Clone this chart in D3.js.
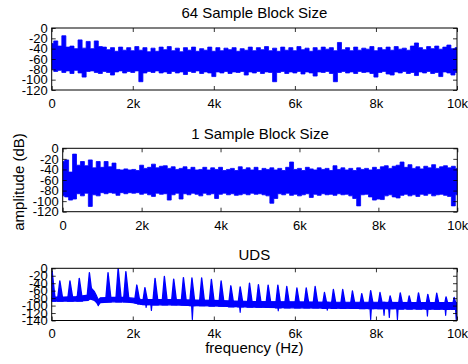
<!DOCTYPE html>
<html><head><meta charset="utf-8">
<script src="https://cdn.jsdelivr.net/npm/d3@7"></script>
<style>
html,body{margin:0;padding:0;background:#fff;}
svg{display:block;font-family:"Liberation Sans",Arial,Helvetica,sans-serif;}
</style></head><body>
<svg id="chart" width="468" height="364"></svg>
<script>
// ---------- data (frequency in kHz, amplitude in dB) ----------
const titles = ["64 Sample Block Size", "1 Sample Block Size", "UDS"];
const xTicks = [0, 2, 4, 6, 8, 10];
const yTicks12 = [0, -20, -40, -60, -80, -100, -120];
const yTicks3 = [0, -20, -40, -60, -80, -100, -120, -140];
const gridFreq = d3.range(101).map(i => i / 10); // 0 .. 10 kHz, 100 Hz bins

const hi64 = [-30,-25,-35,-15,-37,-35,-40,-23,-39,-26,-40,-25,-36,-37,-42,-38,-45,-37,-43,-38,
  -44,-36,-43,-38,-46,-39,-45,-37,-42,-36,-44,-39,-46,-38,-43,-37,-45,-40,-43,-37,
  -45,-38,-44,-39,-42,-38,-45,-40,-43,-37,-44,-38,-42,-36,-44,-39,-45,-37,-43,-38,
  -44,-36,-42,-39,-45,-38,-43,-37,-41,-38,-44,-28,-42,-38,-44,-37,-43,-39,-41,-36,
  -44,-38,-42,-37,-43,-36,-41,-39,-43,-35,-29,-38,-42,-36,-40,-35,-41,-37,-33,-40,-38];
const lo64 = [-80,-84,-82,-86,-83,-88,-82,-87,-95,-84,-83,-86,-88,-84,-86,-91,-85,-83,-87,-84,
  -86,-83,-104,-87,-84,-86,-83,-87,-85,-88,-84,-87,-85,-90,-84,-86,-83,-88,-85,-87,
  -94,-85,-87,-84,-88,-85,-86,-84,-91,-85,-87,-84,-88,-85,-86,-104,-86,-84,-88,-85,
  -87,-84,-89,-85,-87,-93,-85,-86,-84,-88,-104,-86,-84,-87,-85,-88,-84,-86,-85,-88,
  -95,-86,-84,-89,-91,-85,-87,-84,-88,-86,-92,-85,-87,-84,-88,-86,-94,-85,-87,-91,-86];

const hi1 = [-25,-22,-45,-11,-32,-25,-33,-22,-37,-25,-36,-25,-35,-28,-40,-41,-39,-41,-40,-42,
  -32,-38,-36,-30,-37,-34,-33,-38,-35,-40,-38,-35,-40,-36,-41,-40,-36,-41,-37,-40,
  -36,-42,-40,-38,-42,-35,-40,-37,-41,-36,-42,-38,-40,-37,-41,-38,-42,-36,-26,-40,
  -38,-42,-36,-39,-41,-37,-40,-38,-42,-33,-40,-37,-41,-38,-42,-37,-40,-38,-41,-36,
  -40,-35,-33,-38,-34,-32,-26,-36,-31,-38,-35,-39,-34,-37,-31,-38,-35,-33,-37,-34,-38];
const lo1 = [-90,-92,-98,-96,-86,-90,-85,-110,-88,-90,-84,-86,-84,-85,-89,-84,-86,-84,-85,-84,
  -87,-85,-88,-91,-85,-87,-86,-98,-88,-85,-96,-86,-88,-85,-87,-90,-85,-88,-86,-95,
  -87,-85,-88,-86,-89,-88,-86,-88,-85,-87,-86,-88,-90,-104,-95,-86,-88,-85,-89,-87,
  -90,-88,-86,-93,-87,-89,-86,-88,-87,-89,-86,-88,-87,-90,-95,-109,-88,-87,-92,-98,
  -96,-97,-90,-88,-92,-94,-89,-87,-90,-88,-91,-87,-89,-86,-90,-88,-87,-89,-91,-109,-88];

// UDS: noise floor band, harmonic peaks and deep notches
const udsBaseF  = [0, 0.3, 0.6, 0.9, 0.95, 1.0, 1.05, 1.1, 1.15, 1.2, 1.5, 1.8, 2.0, 2.2, 2.5, 3.0, 3.5, 4.0, 4.5, 5.0, 6.0, 7.0, 8.0, 9.0, 10.0];
const udsBaseHi = [-77,-77,-76,-72,-50,-56,-62,-72,-85,-79,-78,-78,-80,-83,-84,-84,-85,-86,-88,-89,-90,-91,-91,-92,-92];
const udsBaseLo = [-88,-88,-88,-86,-82,-84,-86,-91,-99,-92,-90,-90,-92,-97,-98,-98,-100,-101,-103,-104,-106,-107,-108,-109,-110];
const udsPeakF  = [0.01,0.2,0.45,0.68,0.93,1.39,1.64,1.83,2.1,2.3,2.55,2.78,3.01,3.25,3.46,3.7,3.94,4.18,4.42,4.65,4.88,5.1,5.34,5.58,5.8,6.05,6.28,6.5,6.73,6.95,7.18,7.42,7.65,7.87,8.1,8.35,8.6,8.82,9.05,9.28,9.5,9.73,9.93];
const udsPeakDb = [-8,-34,-34,-27,-12,-12,0,-9,-45,-52,-27,-22,-29,-25,-26,-26,-30,-34,-47,-50,-40,-44,-45,-45,-49,-53,-53,-49,-65,-57,-57,-61,-68,-60,-65,-74,-66,-74,-66,-70,-67,-77,-78];
const udsDipF   = [1.15,2.13,2.33,2.46,3.47,4.65,5.59,6.8,7.87,8.2,8.33,8.53,9.27,9.72,9.98];
const udsDipDb  = [-100,-97,-105,-113,-137,-118,-114,-112,-137,-126,-132,-137,-128,-126,-137];

// ---------- layout ----------
const svg = d3.select("#chart");
const BLUE = "#0000ff";
const panels = [
  {title: titles[0], x0: 51.7, x1: 457, y0: 28, y1: 90, dom: [-120, 0], ticks: yTicks12, ty: 18.3, hi: hi64, lo: lo64},
  {title: titles[1], x0: 62.7, x1: 457.3, y0: 148.3, y1: 211.7, dom: [-120, 0], ticks: yTicks12, ty: 138.5, hi: hi1, lo: lo1},
  {title: titles[2], x0: 51.7, x1: 457, y0: 268.3, y1: 320.5, dom: [-140, 0], ticks: yTicks3, ty: 260, uds: true}
];

panels.forEach((p, pi) => {
  const x = d3.scaleLinear().domain([0, 10]).range([p.x0, p.x1]);
  const y = d3.scaleLinear().domain(p.dom).range([p.y1, p.y0]);
  const g = svg.append("g");
  const clipId = "clip" + pi;
  svg.append("clipPath").attr("id", clipId).append("rect")
    .attr("x", p.x0).attr("y", p.y0).attr("width", p.x1 - p.x0).attr("height", p.y1 - p.y0);
  const dg = g.append("g").attr("clip-path", `url(#${clipId})`);

  if (!p.uds) {
    const area = d3.area().curve(d3.curveStep)
      .x((d, i) => x(gridFreq[i])).y0((d, i) => y(p.lo[i])).y1((d, i) => y(p.hi[i]));
    dg.append("path").datum(p.hi).attr("d", area)
      .attr("fill", BLUE).attr("stroke", BLUE).attr("stroke-width", 0.8);
  } else {
    const area = d3.area()
      .x((d, i) => x(udsBaseF[i])).y0((d, i) => y(udsBaseLo[i])).y1((d, i) => y(udsBaseHi[i]));
    dg.append("path").datum(udsBaseF).attr("d", area)
      .attr("fill", BLUE).attr("stroke", BLUE).attr("stroke-width", 1.2);
    const near = f => d3.leastIndex(udsBaseF, a => Math.abs(a - f));
    udsPeakF.forEach((f, i) => {
      const b = udsBaseLo[near(f)];
      const path = d3.path();
      path.moveTo(x(f - 0.06), y(b));
      path.lineTo(x(f), y(udsPeakDb[i]));
      path.lineTo(x(f + 0.08), y(b));
      path.closePath();
      dg.append("path").attr("d", path.toString())
        .attr("fill", BLUE).attr("stroke", BLUE).attr("stroke-width", 1.4).attr("stroke-linejoin", "round");
    });
    udsDipF.forEach((f, i) => {
      const b = udsBaseHi[near(f)];
      const path = d3.path();
      path.moveTo(x(f - 0.025), y(b));
      path.lineTo(x(f), y(udsDipDb[i]));
      path.lineTo(x(f + 0.025), y(b));
      path.closePath();
      dg.append("path").attr("d", path.toString())
        .attr("fill", BLUE).attr("stroke", BLUE).attr("stroke-width", 1.2).attr("stroke-linejoin", "round");
    });
  }

  // axes, ticks inward on all sides
  const fmt = d => d === 0 ? "0" : d + "k";
  const ax = [
    g.append("g").attr("transform", `translate(0,${p.y1})`)
      .call(d3.axisBottom(x).tickValues(xTicks).tickFormat(fmt).tickSize(-4).tickPadding(8.6)),
    g.append("g").attr("transform", `translate(0,${p.y0})`)
      .call(d3.axisTop(x).tickValues(xTicks).tickFormat("").tickSize(-4)),
    g.append("g").attr("transform", `translate(${p.x0},0)`)
      .call(d3.axisLeft(y).tickValues(p.ticks).tickFormat(d => String(d)).tickSize(-4).tickPadding(4)),
    g.append("g").attr("transform", `translate(${p.x1},0)`)
      .call(d3.axisRight(y).tickValues(p.ticks).tickFormat("").tickSize(-4))
  ];
  ax.forEach(a => {
    a.select(".domain").remove();
    a.selectAll("line").attr("stroke", "#000").attr("stroke-width", 0.8);
    a.selectAll("text").attr("font-size", 13).attr("fill", "#000")
      .attr("font-family", "'Liberation Sans',Arial,sans-serif");
  });
  g.append("rect").attr("x", p.x0).attr("y", p.y0)
    .attr("width", p.x1 - p.x0).attr("height", p.y1 - p.y0)
    .attr("fill", "none").attr("stroke", "#000").attr("stroke-width", 1);

  svg.append("text").attr("x", (p.x0 + p.x1) / 2).attr("y", p.ty)
    .attr("text-anchor", "middle").attr("font-size", 15).attr("fill", "#000").text(p.title);
});

svg.append("text").attr("transform", "translate(24,182) rotate(-90)")
  .attr("text-anchor", "middle").attr("font-size", 15).attr("fill", "#000").text("amplitude (dB)");
svg.append("text").attr("x", 254.4).attr("y", 353)
  .attr("text-anchor", "middle").attr("font-size", 15).attr("fill", "#000").text("frequency (Hz)");
</script></body></html>
